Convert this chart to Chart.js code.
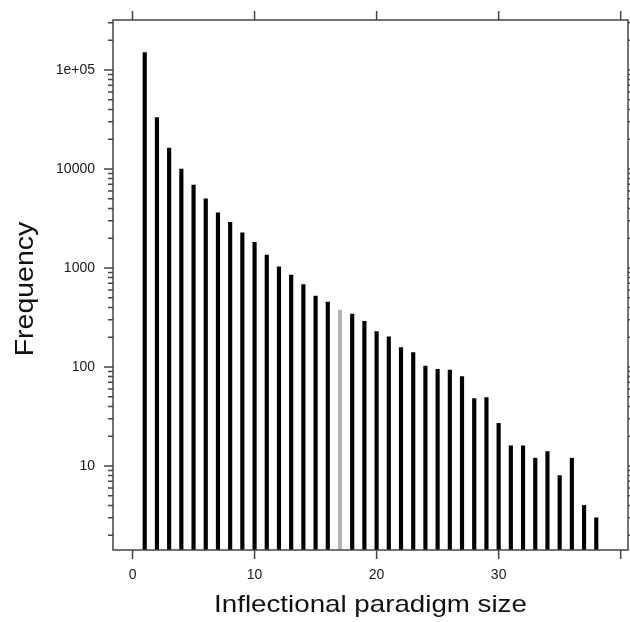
<!DOCTYPE html>
<html>
<head>
<meta charset="utf-8">
<script src="https://cdn.jsdelivr.net/npm/chart.js@4"></script>
<style>
html,body{margin:0;padding:0;background:#fff;}
#wrap{width:630px;height:622px;}
</style>
</head>
<body>
<div id="wrap"><canvas id="c" width="630" height="622"></canvas></div>
<script>
const paradigmSizes = [1,2,3,4,5,6,7,8,9,10,11,12,13,14,15,16,17,18,19,20,21,22,23,24,25,26,27,28,29,30,31,32,33,34,35,36,37,38];
const frequencies = [150000,33000,16300,10000,6900,5000,3600,2900,2270,1820,1350,1030,850,680,520,452,376,343,290,228,202,157,140,102,95,93,80,48,49,27,16,16,12,14,8,12,4,3];
const highlightedSize = 17;
const xTickValues = [0,10,20,30,40];
const xTickLabels = ['0','10','20','30',''];
const yTickValues = [10,100,1000,10000,100000];
const yTickLabels = ['10','100','1000','10000','1e+05'];
const xTitle = 'Inflectional paradigm size';
const yTitle = 'Frequency';

const FONT = "'Liberation Sans', Arial, Helvetica, sans-serif";

const framePlugin = {
  id: 'frame',
  afterDraw(chart) {
    const {ctx, chartArea: a, scales: {x, y}} = chart;
    ctx.save();
    ctx.strokeStyle = '#444';
    ctx.lineWidth = 1.5;
    ctx.strokeRect(a.left, a.top, a.right - a.left, a.bottom - a.top);
    ctx.beginPath();
    xTickValues.forEach(v => {
      const px = x.getPixelForValue(v);
      ctx.moveTo(px, a.top); ctx.lineTo(px, a.top - 9);
      ctx.moveTo(px, a.bottom); ctx.lineTo(px, a.bottom + 9);
    });
    for (let e = 0; e <= 5; e++) {
      for (let m = 1; m <= 9; m++) {
        const v = m * Math.pow(10, e);
        if (v < y.min || v > y.max) continue;
        const len = m === 1 ? 9 : 5;
        const py = y.getPixelForValue(v);
        ctx.moveTo(a.left, py); ctx.lineTo(a.left - len, py);
        ctx.moveTo(a.right, py); ctx.lineTo(a.right + len, py);
      }
    }
    ctx.stroke();

    // axis titles (slightly widened, like the reference)
    ctx.fillStyle = '#111';
    ctx.textAlign = 'center';
    ctx.textBaseline = 'alphabetic';
    ctx.font = "24px " + FONT;
    ctx.save();
    ctx.translate((a.left + a.right) / 2, 611.5);
    ctx.scale(1.155, 1);
    ctx.fillText(xTitle, 0, 0);
    ctx.restore();

    ctx.font = "25px " + FONT;
    ctx.save();
    ctx.translate(32.5, (a.top + a.bottom) / 2 + 4);
    ctx.rotate(-Math.PI / 2);
    ctx.scale(1.14, 1);
    ctx.fillText(yTitle, 0, 0);
    ctx.restore();
    ctx.restore();
  }
};

new Chart(document.getElementById('c'), {
  type: 'bar',
  data: {
    datasets: [{
      data: paradigmSizes.map((s, i) => ({x: s, y: frequencies[i]})),
      backgroundColor: paradigmSizes.map(s => s === highlightedSize ? '#b4b4b4' : '#000'),
      borderWidth: 0,
      barThickness: 3.5,
      grouped: false
    }]
  },
  options: {
    responsive: false,
    animation: false,
    layout: {padding: {left: 0, right: 2, top: 20, bottom: 0}},
    plugins: {legend: {display: false}, tooltip: {enabled: false}},
    scales: {
      x: {
        type: 'linear',
        min: -1.6,
        max: 40.6,
        offset: false,
        bounds: 'data',
        afterBuildTicks: s => { s.ticks = xTickValues.map(v => ({value: v})); },
        afterFit: s => { s.height = 72; s.paddingLeft = 0; s.paddingRight = 0; },
        ticks: {
          autoSkip: false, maxRotation: 0, padding: 17, color: '#1a1a1a',
          font: {family: FONT, size: 14},
          callback: (v, i) => xTickLabels[i]
        },
        grid: {display: true, drawOnChartArea: false, drawTicks: false, offset: false},
        border: {display: false},
        title: {display: false}
      },
      y: {
        type: 'logarithmic',
        min: 1.418,
        max: 319900,
        bounds: 'data',
        afterBuildTicks: s => { s.ticks = yTickValues.map(v => ({value: v})); },
        afterFit: s => { s.width = 113; s.paddingTop = 0; s.paddingBottom = 0; },
        ticks: {
          autoSkip: false, padding: 18, color: '#1a1a1a',
          font: {family: FONT, size: 14},
          callback: (v, i) => yTickLabels[i]
        },
        grid: {display: true, drawOnChartArea: false, drawTicks: false},
        border: {display: false},
        title: {display: false}
      }
    }
  },
  plugins: [framePlugin]
});
</script>
</body>
</html>
